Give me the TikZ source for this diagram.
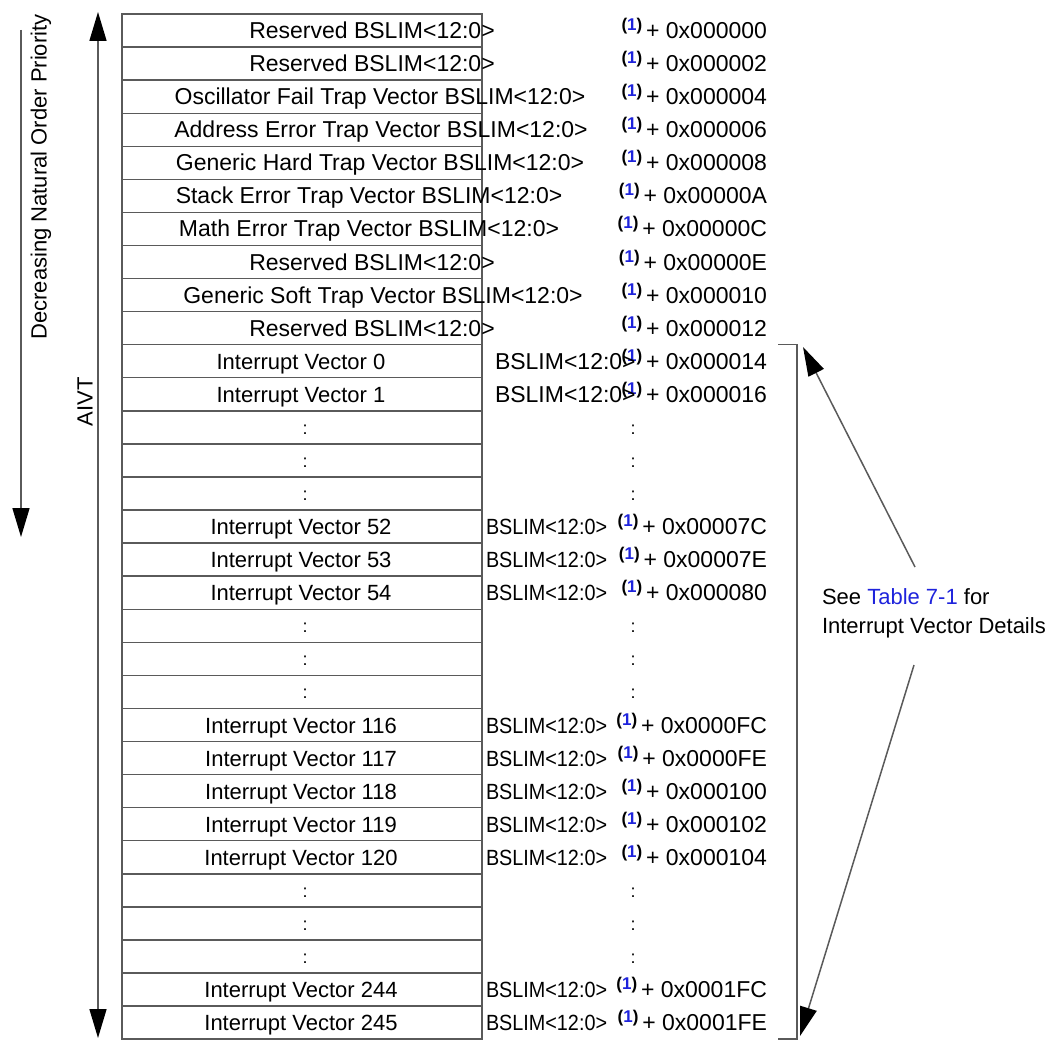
\documentclass[tikz,border=0pt]{standalone}
\usepackage{fontspec}
\setmainfont{Liberation Sans}
\usetikzlibrary{arrows.meta}
\definecolor{lnk}{RGB}{30,35,220}
\definecolor{ln}{RGB}{90,90,90}
\newcommand{\supone}{\raisebox{8pt}{\fontsize{17}{17}\selectfont\bfseries(\textcolor{lnk}{1})}}
\newcommand{\bsl}{\scalebox{0.9}[1]{BSLIM<12:0>}}
\begin{document}
\begin{tikzpicture}[x=1pt,y=1pt,
  every node/.style={inner sep=0pt, outer sep=0pt},
  txt/.style={font=\fontsize{23}{27}\selectfont, anchor=base},
  ivtxt/.style={font=\fontsize{22}{26}\selectfont, anchor=base},
  dots/.style={font=\fontsize{18}{20}\selectfont, anchor=base},
  addr/.style={font=\fontsize{23}{27}\selectfont, anchor=base east},
  bsl/.style={font=\fontsize{22}{26}\selectfont, anchor=base west},
  note/.style={font=\fontsize{22}{26}\selectfont, anchor=base west},
  rowbox/.style={draw=ln, line width=1.4pt, minimum width=360pt, minimum height=33.07pt},
  gline/.style={draw=ln, line width=1.5pt},
  tip/.tip={Triangle[length=29pt,width=17pt,color=black]},
  arr/.style={gline, -tip},
  darr/.style={gline, tip-tip},
]
\useasboundingbox[fill=white] (0,0) rectangle (1062,-1043);

% table rows
\foreach \i in {0,...,30}
  \node[rowbox] (r\i) at (302,{-(14+33.07*(\i+0.5))}) {};

% left labels, top part
\foreach \i/\x/\t in {0/372/Reserved BSLIM<12:0>,
                      1/372/Reserved BSLIM<12:0>,
                      2/380/Oscillator Fail Trap Vector BSLIM<12:0>,
                      3/381/Address Error Trap Vector BSLIM<12:0>,
                      4/380/Generic Hard Trap Vector BSLIM<12:0>,
                      5/369/Stack Error Trap Vector BSLIM<12:0>,
                      6/369/Math Error Trap Vector BSLIM<12:0>,
                      7/372/Reserved BSLIM<12:0>,
                      8/383/Generic Soft Trap Vector BSLIM<12:0>,
                      9/372/Reserved BSLIM<12:0>}
  \node[txt] (L\i) at (\x,{-(14+33.07*(\i+0.5))-8}) {\t};

% interrupt vector labels
\foreach \i/\n in {10/0,11/1,15/52,16/53,17/54,21/116,22/117,23/118,24/119,25/120,29/244,30/245}
  \node[ivtxt] (L\i) at (301,{-(14+33.07*(\i+0.5))-8}) {Interrupt Vector \n};

% dots
\foreach \i in {12,13,14,18,19,20,26,27,28} {
  \node[dots] (D\i) at (305,{-(14+33.07*(\i+0.5))-7}) {:};
  \node[dots] (E\i) at (633,{-(14+33.07*(\i+0.5))-7}) {:};
}

% addresses
\foreach \i/\h in {0/000000,1/000002,2/000004,3/000006,4/000008,5/00000A,6/00000C,
                   7/00000E,8/000010,9/000012,10/000014,11/000016,
                   15/00007C,16/00007E,17/000080,
                   21/0000FC,22/0000FE,23/000100,24/000102,25/000104,
                   29/0001FC,30/0001FE}
  \node[addr] (A\i) at (767,{-(14+33.07*(\i+0.5))-8}) {\supone\,+ 0x\h};

% BSLIM in right column
\foreach \i in {10,11}
  \node[txt, anchor=base west] (B\i) at (495,{-(14+33.07*(\i+0.5))-8}) {BSLIM<12:0>};
\foreach \i in {15,16,17,21,22,23,24,25,29,30}
  \node[bsl] (B\i) at (486,{-(14+33.07*(\i+0.5))-8}) {\bsl};

% left arrows
\coordinate (decS) at (21,-30);
\coordinate (decE) at (21,-537);
\draw[arr] (decS) -- (decE);
\node[rotate=90, font=\fontsize{22}{26}\selectfont] (dec) at (41,-177) {Decreasing Natural Order Priority};

\coordinate (aivtT) at (98,-12);
\coordinate (aivtB) at (98,-1038);
\draw[darr] (aivtT) -- (aivtB);
\node[rotate=90, font=\fontsize{22}{26}\selectfont] (aivt) at (85,-402) {AIVT};

% right bracket
\coordinate (bt1) at (778,-344.7);
\coordinate (bt2) at (797,-344.7);
\coordinate (bb2) at (797,-1039);
\coordinate (bb1) at (778,-1039);
\draw[gline] (bt1) -- (bt2) -- (bb2) -- (bb1);

% note
\node[note] (note1) at (822,-604) {See \textcolor{lnk}{Table 7-1} for};
\node[note] (note2) at (822,-633) {Interrupt Vector Details};

\coordinate (n1) at (915,-567);
\coordinate (t1) at (803,-347);
\coordinate (n2) at (914,-665);
\coordinate (t2) at (800,-1036);
\draw[arr] (n1) -- (t1);
\draw[arr] (n2) -- (t2);
\end{tikzpicture}
\end{document}
